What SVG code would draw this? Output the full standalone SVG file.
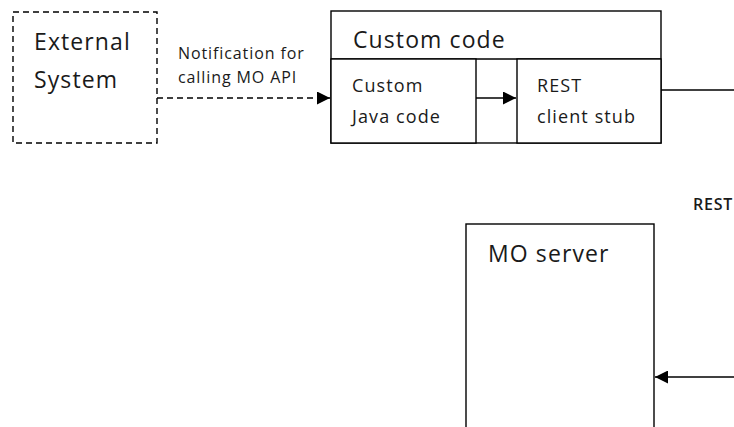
<svg xmlns="http://www.w3.org/2000/svg" width="734" height="427" viewBox="0 0 734 427">
<style>
.box{fill:#fff;stroke:#000;stroke-width:1.4}
.dash{fill:none;stroke:#000;stroke-width:1.4;stroke-dasharray:6,4}
.big{font-family:"Open Sans","Noto Sans",sans-serif;font-size:23px;letter-spacing:1.1px;fill:#1a1a1a}
.mid{font-family:"Open Sans","Noto Sans",sans-serif;font-size:18px;letter-spacing:1.1px;fill:#1a1a1a}
.small{font-family:"Open Sans","Noto Sans",sans-serif;font-size:16px;letter-spacing:0.9px;fill:#1a1a1a}
.lbl{font-family:"Open Sans","Noto Sans",sans-serif;font-size:16px;font-weight:600;letter-spacing:0.8px;fill:#1a1a1a}
.line{fill:none;stroke:#000;stroke-width:1.4}
</style>
<defs>
<marker id="ah" viewBox="0 0 10 10" refX="10" refY="5" markerWidth="13" markerHeight="13" markerUnits="userSpaceOnUse" orient="auto">
<path d="M0,0 L10,5 L0,10 z" fill="#000"/>
</marker>
</defs>
<rect width="734" height="427" fill="#fff"/>
<g id="external-system">
<rect class="dash" x="13" y="12" width="144" height="131"/>
<text class="big" x="34" y="50">External</text>
<text class="big" x="34" y="88">System</text>
</g>
<g id="custom-code">
<rect class="box" x="331" y="11" width="330" height="132"/>
<line class="line" x1="331" y1="59" x2="661" y2="59"/>
<text class="big" x="353" y="48">Custom code</text>
</g>
<g id="custom-java-code">
<rect class="box" x="331" y="59" width="145" height="84"/>
<text class="mid" x="352" y="92">Custom</text>
<text class="mid" x="352" y="123">Java code</text>
</g>
<g id="rest-client-stub">
<rect class="box" x="517" y="59" width="144" height="84"/>
<text class="mid" x="537" y="92">REST</text>
<text class="mid" x="537" y="123">client stub</text>
</g>
<g id="mo-server">
<rect class="box" x="466" y="224" width="188" height="220"/>
<text class="big" x="488" y="262">MO server</text>
</g>
<g id="connectors">
<line class="dash" x1="157" y1="98" x2="330" y2="98" marker-end="url(#ah)"/>
<text class="small" x="178" y="59">Notification for</text>
<text class="small" x="178" y="83">calling MO API</text>
<line class="line" x1="476" y1="98" x2="516" y2="98" marker-end="url(#ah)"/>
<line class="line" x1="661" y1="90" x2="734" y2="90"/>
<text class="lbl" x="693" y="210">REST</text>
<line class="line" x1="734" y1="377" x2="655" y2="377" marker-end="url(#ah)"/>
</g>
</svg>
